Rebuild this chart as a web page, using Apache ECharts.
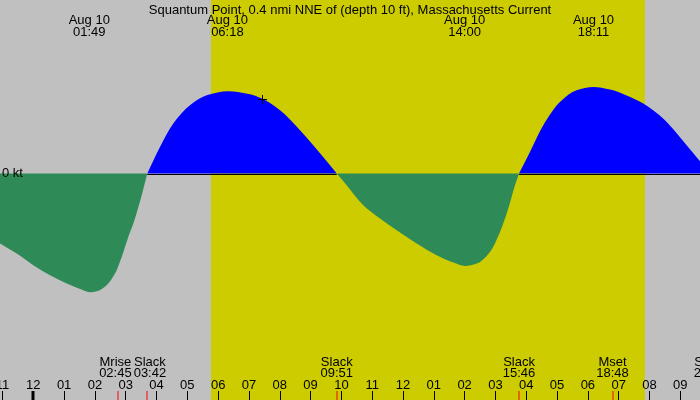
<!DOCTYPE html>
<html><head><meta charset="utf-8">
<script src="https://cdn.jsdelivr.net/npm/echarts@6/dist/echarts.min.js"></script>
<style>html,body{margin:0;padding:0;background:#c0c0c0}#c{width:700px;height:400px}</style>
</head><body><div id="c"></div>
<script>
// ---- data (hours since midnight Aug 10, current in knots) ----
const titleText = 'Squantum Point, 0.4 nmi NNE of (depth 10 ft), Massachusetts Current';
const xMin = -1.081, xMax = 21.64;           // 22:55 (Aug 9) .. 21:38
const yMin = -2.265, yMax = 1.735;
const hourTicks = [-1,0,1,2,3,4,5,6,7,8,9,10,11,12,13,14,15,16,17,18,19,20,21];
const hourTickLabels = ['11','12','01','02','03','04','05','06','07','08','09','10','11','12','01','02','03','04','05','06','07','08','09'];
const dayTicks = [0];
const sunrise = 5.767, sunset = 19.85;

const ebb1 = [[-1.081,-0.70],[-0.539,-0.80],[0,-0.917],[0.542,-1.017],[1.084,-1.10],[1.623,-1.167],[1.84,-1.187],[2.058,-1.177],[2.382,-1.117],[2.652,-1.0],[2.869,-0.834],[3.083,-0.634],[3.246,-0.50],[3.463,-0.28],[3.583,-0.14],[3.7,0]];
const flood1 = [[3.7,0],[4.112,0.266],[4.544,0.50],[5.086,0.683],[5.628,0.783],[6.329,0.823],[7.033,0.793],[7.413,0.75],[8.008,0.633],[8.657,0.433],[9.306,0.203],[9.85,0]];
const ebb2 = [[9.85,0],[10.172,-0.117],[10.711,-0.317],[11.253,-0.45],[11.795,-0.567],[12.444,-0.70],[13.093,-0.817],[13.632,-0.89],[14.012,-0.924],[14.391,-0.90],[14.823,-0.784],[15.148,-0.584],[15.417,-0.35],[15.635,-0.117],[15.767,0]];
const flood2 = [[15.767,0],[16.121,0.216],[16.553,0.483],[17.095,0.716],[17.637,0.833],[18.176,0.866],[18.718,0.84],[19.26,0.78],[19.799,0.70],[20.503,0.533],[20.883,0.403],[21.315,0.243],[21.639,0.123],[21.967,0]];

const topTimes = [1.817, 6.3, 14.0, 18.183];
const topDates = ['Aug 10','Aug 10','Aug 10','Aug 10'];
const topLabels = ['01:49','06:18','14:00','18:11'];

const eventNames = ['Mrise','Slack','Slack','Slack','Mset','Slack'];
const eventTimes = [2.75, 3.7, 9.85, 15.767, 18.8, 21.967];
const eventLabels = ['02:45','03:42','09:51','15:46','18:48','21:58'];

const nowT = [7.413], nowV = [0.75];

// ---- styles ----
const FAM = 'Liberation Sans';
const FONT = '13px "Liberation Sans"';
const dayColor = '#cccc00', nightColor = '#c0c0c0';
const floodColor = '#0000ff', ebbColor = '#2e8b57';

const mctx = document.createElement('canvas').getContext('2d');
mctx.font = FONT;
function textW(s){ return mctx.measureText(s).width; }

// smooth (monotone cubic) area through the data points, mapped by the axes
const segments = [
  {pts: ebb1, color: ebbColor, zero:false},
  {pts: ebb2, color: ebbColor, zero:false},
  {pts: flood1, color: floodColor, zero:true},
  {pts: flood2, color: floodColor, zero:true}
];
function smoothPath(px){
  const n = px.length, d = [], m = [];
  for (let i=0;i<n-1;i++) d.push((px[i+1][1]-px[i][1])/(px[i+1][0]-px[i][0]));
  m[0] = d[0]; m[n-1] = d[n-2];
  for (let i=1;i<n-1;i++){
    if (d[i-1]*d[i] <= 0) m[i] = 0;
    else {
      const h0 = px[i][0]-px[i-1][0], h1 = px[i+1][0]-px[i][0];
      const w1 = 2*h1+h0, w2 = h1+2*h0;
      m[i] = (w1+w2)/(w1/d[i-1]+w2/d[i]);
    }
  }
  let s = 'M'+px[0][0]+','+px[0][1];
  for (let i=0;i<n-1;i++){
    const h = px[i+1][0]-px[i][0];
    s += 'C'+(px[i][0]+h/3)+','+(px[i][1]+m[i]*h/3)+','+(px[i+1][0]-h/3)+','+(px[i+1][1]-m[i+1]*h/3)+','+px[i+1][0]+','+px[i+1][1];
  }
  return s;
}

function eventCenters(api){
  const xs = eventTimes.map(t => api.coord([t,0])[0]);
  const ws = eventNames.map((n,i) => Math.max(textW(n), textW(eventLabels[i])));
  const out = xs.slice();
  for (let i=1;i<out.length;i++){
    const need = (ws[i-1]+ws[i])/2 + 2;
    const dd = out[i]-out[i-1];
    if (dd < need){ const s=(need-dd)/2; out[i-1]-=s; out[i]+=s; }
  }
  return out;
}

const chart = echarts.init(document.getElementById('c'), null, {renderer:'canvas'});
chart.setOption({
  backgroundColor: nightColor,
  animation:false,
  title:{text:titleText, left:'center', top:-1, textStyle:{fontFamily:FAM, fontSize:13, fontWeight:'normal', color:'#000'}},
  grid:{left:0, right:0, top:0, bottom:0, containLabel:false, outerBoundsMode:'none'},
  xAxis:{type:'value', min:xMin, max:xMax, z:10,
    axisLine:{show:false, onZero:false}, splitLine:{show:false},
    axisTick:{show:true, inside:true, length:9, customValues:hourTicks, lineStyle:{color:'#000', width:1}},
    axisLabel:{show:true, inside:true, margin:8, customValues:hourTicks, color:'#000', fontFamily:FAM, fontSize:13,
      formatter:(v)=>{const i=hourTicks.indexOf(Math.round(v)); return i>=0?hourTickLabels[i]:'';}}},
  yAxis:{type:'value', min:yMin, max:yMax, z:10,
    axisLine:{show:false, onZero:false}, splitLine:{show:false}, axisTick:{show:false},
    axisLabel:{show:true, inside:true, margin:2, customValues:[0], color:'#000', fontFamily:FAM, fontSize:13,
      formatter:(v)=>v+' kt'}},
  series:[
    {type:'custom', z:1, silent:true, data:[[sunrise, sunset]], encode:{x:[0,1]},
      renderItem:(params, api)=>{
        const x1 = api.coord([api.value(0),0])[0], x2 = api.coord([api.value(1),0])[0];
        const cs = params.coordSys;
        return {type:'rect', shape:{x:x1, y:cs.y, width:x2-x1, height:cs.height}, style:{fill:dayColor}};
      }},
    {type:'custom', z:2, silent:true, clip:true, data:segments.map((s,i)=>[s.pts[0][0], 0, i]), encode:{x:0,y:1},
      renderItem:(params, api)=>{
        const seg = segments[api.value(2)];
        const px = seg.pts.map(p => api.coord(p));
        const z0 = api.coord([0,0])[1];
        const last = px[px.length-1];
        const path = smoothPath(px) + 'L'+last[0]+','+z0+'L'+px[0][0]+','+z0+'Z';
        const children = [{type:'path', shape:{pathData: path}, style:{fill:seg.color, stroke:null}}];
        if (seg.zero){
          const y = Math.round(z0)+0.5;
          children.push({type:'line', shape:{x1:px[0][0], y1:y, x2:last[0], y2:y}, style:{stroke:'#000', lineWidth:1}});
        }
        return {type:'group', children};
      }},
    {type:'custom', z:6, silent:true, data:nowT.map((t,i)=>[t, nowV[i]]), encode:{x:0,y:1},
      renderItem:(params, api)=>{
        const p = api.coord([api.value(0), api.value(1)]);
        const cx = Math.round(p[0])+0.5, cy = Math.round(p[1])+0.5;
        return {type:'group', children:[
          {type:'line', shape:{x1:cx-4.5, y1:cy, x2:cx+4.5, y2:cy}, style:{stroke:'#000', lineWidth:1}},
          {type:'line', shape:{x1:cx, y1:cy-4.5, x2:cx, y2:cy+4.5}, style:{stroke:'#000', lineWidth:1}}
        ]};
      }},
    {type:'custom', z:6, silent:true, data:topTimes.map((t,i)=>[t,0,i]), encode:{x:0,y:1},
      renderItem:(params, api)=>{
        const x = api.coord([api.value(0),0])[0];
        const i = api.value(2);
        return {type:'group', children:[
          {type:'text', style:{text:topDates[i], x, y:20, align:'center', verticalAlign:'middle', font:FONT, fill:'#000'}},
          {type:'text', style:{text:topLabels[i], x, y:32, align:'center', verticalAlign:'middle', font:FONT, fill:'#000'}}
        ]};
      }},
    {type:'custom', z:6, silent:true, clip:false, data:eventTimes.map((t,i)=>[t,0,i]), encode:{x:0,y:1},
      renderItem:(params, api)=>{
        const x = api.coord([api.value(0),0])[0];
        const i = api.value(2);
        const cx = eventCenters(api)[i];
        return {type:'group', children:[
          {type:'text', style:{text:eventNames[i], x:cx, y:362, align:'center', verticalAlign:'middle', font:FONT, fill:'#000'}},
          {type:'text', style:{text:eventLabels[i], x:cx, y:373.5, align:'center', verticalAlign:'middle', font:FONT, fill:'#000'}},
          {type:'rect', shape:{x:Math.round(x)-0.5, y:391, width:1, height:9}, style:{fill:'#ff0000'}}
        ]};
      }},
    {type:'custom', z:6, silent:true, data:dayTicks.map(t=>[t,0]), encode:{x:0,y:1},
      renderItem:(params, api)=>{
        const x = api.coord([api.value(0),0])[0];
        return {type:'rect', shape:{x:Math.round(x)-1.5, y:391, width:3, height:9}, style:{fill:'#000'}};
      }}
  ]
});
</script></body></html>
